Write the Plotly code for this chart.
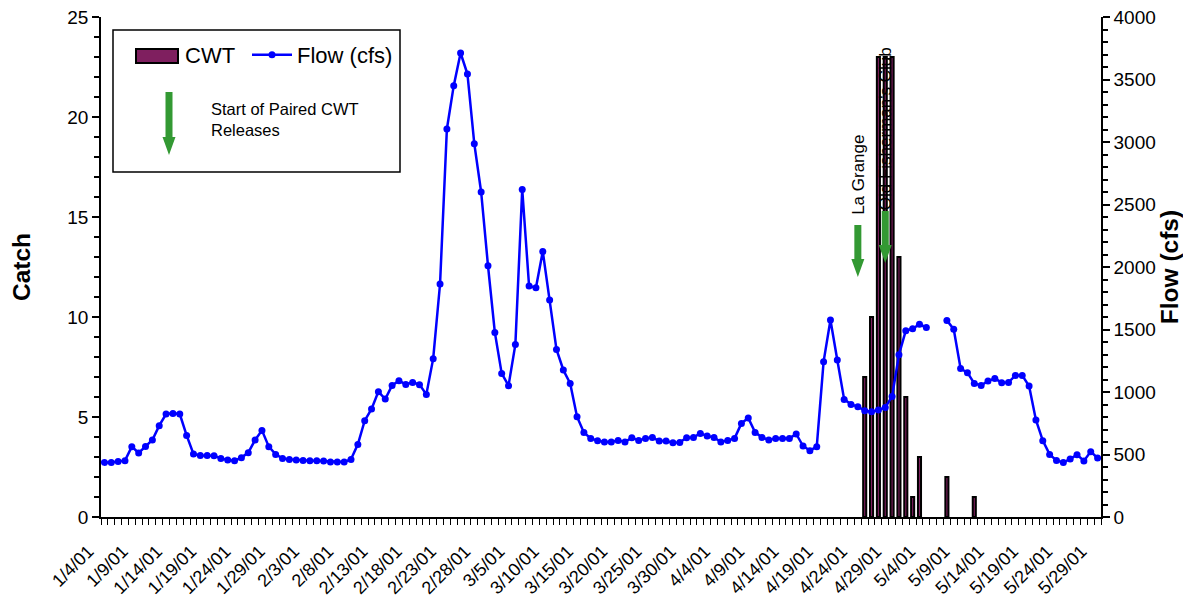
import pandas as pd
import plotly.graph_objects as go

# ---------------- data ----------------
start_date = "2001-01-04"
n_days = 146
dates = pd.date_range(start_date, periods=n_days, freq="D")

flow_cfs = [
    437, 437, 445, 451, 563, 512, 565, 616, 731, 824, 829, 824, 653, 504, 493, 493, 491, 469, 456, 451,
    475, 515, 616, 693, 563, 501, 469, 461, 456, 453, 451, 451, 448, 441, 440, 441,
    461, 581, 771, 864, 1003, 944, 1053, 1091, 1061, 1077, 1059, 981,
    1267, 1864, 3104, 3451, 3712, 3544, 2987, 2600, 2011, 1477, 1149, 1051, 1381, 2621, 1848, 1835,
    2125, 1736, 1341, 1176, 1069, 803,
    677, 629, 611, 600, 600, 613, 600, 635, 613, 629, 637, 608, 608, 595, 597, 635, 637, 669, 648, 637,
    600, 613, 629, 749, 792, 677, 637, 616, 629, 629, 629, 664, 568, 531, 563,
    1243, 1576, 1256, 941, 901, 883, 851, 843, 856, 877, 965, 1298, 1491, 1506, 1542, 1516,
    None, None,
    1573, 1502, 1188, 1155, 1069, 1053, 1088, 1109, 1075, 1077, 1133, 1133, 1048, 776, 611, 501, 453,
    437, 464, 499, 448, 523, 472,
]

cwt_dates = ["2001-04-25", "2001-04-26", "2001-04-27", "2001-04-28", "2001-04-29", "2001-04-30",
             "2001-05-01", "2001-05-02", "2001-05-03", "2001-05-07", "2001-05-11"]
cwt_catch = [7, 10, 23, 23, 23, 13, 6, 1, 3, 2, 1]

tick_labels = ["1/4/01", "1/9/01", "1/14/01", "1/19/01", "1/24/01", "1/29/01", "2/3/01", "2/8/01",
               "2/13/01", "2/18/01", "2/23/01", "2/28/01", "3/5/01", "3/10/01", "3/15/01", "3/20/01",
               "3/25/01", "3/30/01", "4/4/01", "4/9/01", "4/14/01", "4/19/01", "4/24/01", "4/29/01",
               "5/4/01", "5/9/01", "5/14/01", "5/19/01", "5/24/01", "5/29/01"]
tick_dates = list(dates[::5])

release_sites = ["La Grange", "Old Fisherman's Club"]
release_dates = ["2001-04-24", "2001-04-28"]
release_arrow_tip = [12.0, 12.7]      # catch-axis value of arrow tip
release_text_center = [17.1, 19.4]   # catch-axis value of label centre

# ---------------- style ----------------
FONT = "Liberation Sans, Arial, sans-serif"
DAY_MS = 86400000
GREEN = "#339933"
CWT_COLOR = "#7f1f5f"

fig = go.Figure()

fig.add_trace(go.Bar(
    x=cwt_dates, y=cwt_catch, name="CWT", yaxis="y", showlegend=False,
    width=0.45 * DAY_MS,
    marker=dict(color=CWT_COLOR, line=dict(color="black", width=2)),
))

fig.add_trace(go.Scatter(
    x=dates, y=flow_cfs, name="Flow (cfs)", yaxis="y2",
    mode="lines+markers", connectgaps=False,
    line=dict(color="#0000ff", width=2.5),
    marker=dict(color="#0000ff", size=7),
))

shapes = []
annotations = []

def arrow_path(shaft_len, head_len=18, shaft_half=3.5, head_half=6.5):
    # tip at (0,0), pointing downward (positive y is up in pixel sizemode)
    total = shaft_len + head_len
    return (f"M {-shaft_half},{head_len} L {-shaft_half},{total} L {shaft_half},{total} "
            f"L {shaft_half},{head_len} L {head_half},{head_len} L 0,0 L {-head_half},{head_len} Z")

for site, d, tip, tc in zip(release_sites, release_dates, release_arrow_tip, release_text_center):
    shapes.append(dict(type="path", xref="x", yref="y", xsizemode="pixel", ysizemode="pixel",
                       xanchor=d, yanchor=tip, path=arrow_path(34),
                       fillcolor=GREEN, line=dict(width=0)))
    annotations.append(dict(x=d, y=tc, xref="x", yref="y", text=site, showarrow=False,
                            textangle=-90, xanchor="center", yanchor="middle",
                            font=dict(family=FONT, size=17, color="black")))

# legend frame
shapes.append(dict(type="rect", xref="paper", yref="paper", x0=0.012, x1=0.299, y0=0.69, y1=0.974,
                   line=dict(color="black", width=1.5), fillcolor="rgba(0,0,0,0)"))
# CWT legend swatch + label
shapes.append(dict(type="rect", xref="paper", yref="paper", x0=0.035, x1=0.077, y0=0.908, y1=0.936,
                   line=dict(color="black", width=2), fillcolor=CWT_COLOR))
annotations.append(dict(x=0.082, y=0.922, xref="paper", yref="paper", text="CWT", showarrow=False,
                        xanchor="left", yanchor="middle",
                        font=dict(family=FONT, size=22, color="black")))
# legend arrow
shapes.append(dict(type="path", xref="paper", yref="paper", xsizemode="pixel", ysizemode="pixel",
                   xanchor=0.068, yanchor=0.724, path=arrow_path(45),
                   fillcolor=GREEN, line=dict(width=0)))
annotations.append(dict(x=0.108, y=0.794, xref="paper", yref="paper",
                        text="Start of Paired CWT<br>Releases", showarrow=False, align="left",
                        xanchor="left", yanchor="middle",
                        font=dict(family=FONT, size=16.5, color="black")))

# The page body adds an 8 px offset, so the figure is 8 px smaller and margins shifted.
fig.update_layout(
    width=1183, height=590,
    margin=dict(l=93, r=90, t=9, b=81, autoexpand=False),
    paper_bgcolor="white", plot_bgcolor="white",
    font=dict(family=FONT, color="black", size=19),
    showlegend=True,
    legend=dict(orientation="h", x=0.146, y=0.966, xanchor="left", yanchor="top",
                font=dict(family=FONT, size=22), bgcolor="rgba(0,0,0,0)", itemwidth=40),
    xaxis=dict(
        type="date", automargin=False,
        range=["2001-01-03 12:00", "2001-05-29 12:00"],
        tickmode="array", tickvals=tick_dates, ticktext=tick_labels,
        tickangle=-45, tickfont=dict(size=18),
        ticklabelstandoff=15, ticklabelshift=-16,
        ticks="", showline=True, linecolor="black", linewidth=1.5,
        showgrid=False, zeroline=False,
        minor=dict(ticks="outside", ticklen=6, tickcolor="black", tickwidth=1,
                   tick0="2001-01-03 12:00", dtick=DAY_MS, showgrid=False),
    ),
    yaxis=dict(
        automargin=False, ticklabeloverflow="allow",
        title=dict(text="<b>Catch</b>", font=dict(size=24.5), standoff=37),
        range=[0, 25], dtick=5, tickfont=dict(size=19),
        ticks="outside", ticklen=7, tickcolor="black", tickwidth=1.5,
        showline=True, linecolor="black", linewidth=1.5, showgrid=False, zeroline=False,
        minor=dict(dtick=1, ticks="outside", ticklen=5, tickcolor="black", showgrid=False),
    ),
    yaxis2=dict(
        automargin=False, ticklabeloverflow="allow",
        title=dict(text="<b>Flow (cfs)</b>", font=dict(size=24.5), standoff=0),
        range=[0, 4000], dtick=500, tickfont=dict(size=19),
        overlaying="y", side="right",
        ticks="outside", ticklen=7, tickcolor="black", tickwidth=1.5,
        showline=True, linecolor="black", linewidth=1.5, showgrid=False, zeroline=False,
        minor=dict(dtick=100, ticks="outside", ticklen=5, tickcolor="black", showgrid=False),
    ),
    shapes=shapes,
    annotations=annotations,
)

fig.write_html("out.html")
